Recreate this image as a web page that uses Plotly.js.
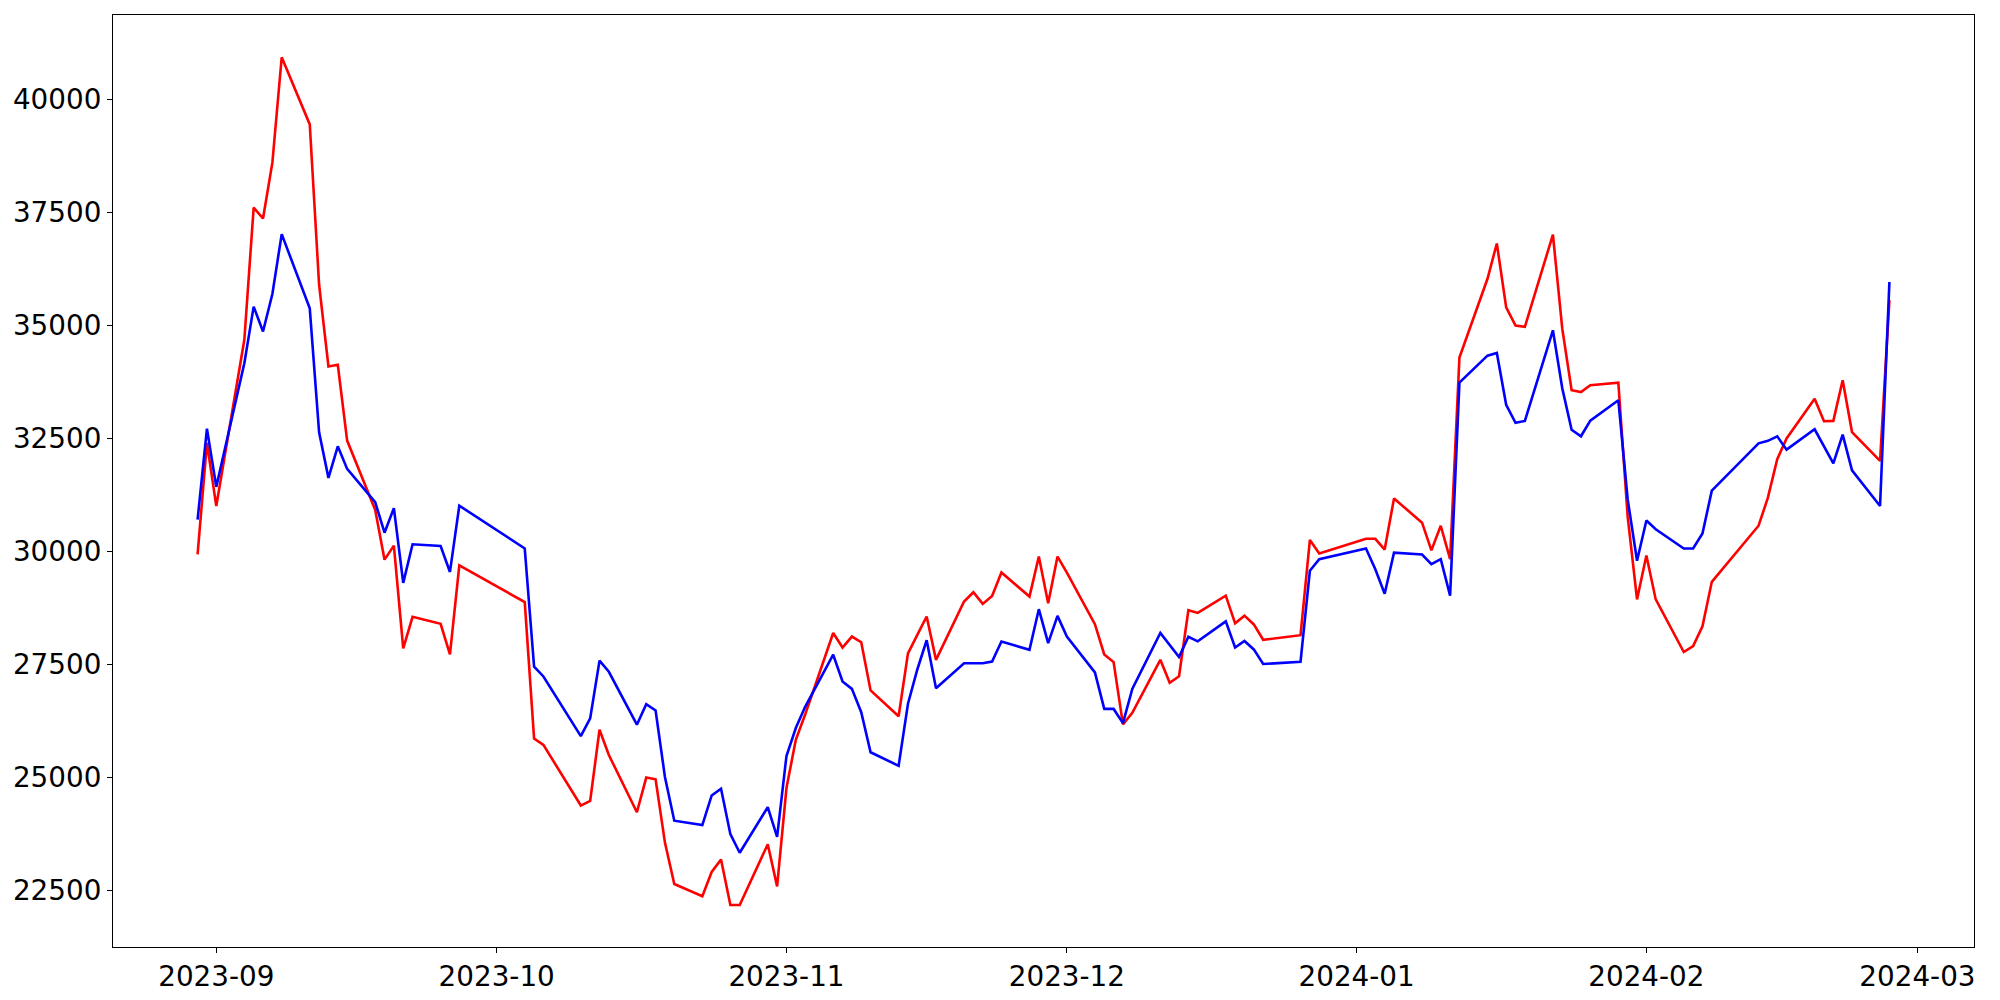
<!DOCTYPE html>
<html>
<head>
<meta charset="utf-8">
<script src="https://cdn.plot.ly/plotly-3.0.1.min.js"></script>
<style>html,body{margin:0;padding:0;background:#fff;}#chart{width:2000px;height:1000px;}</style>
</head>
<body>
<div id="chart"></div>
<script>
const dates = [
 "2023-08-30","2023-08-31","2023-09-01","2023-09-04","2023-09-05","2023-09-06","2023-09-07","2023-09-08",
 "2023-09-11","2023-09-12","2023-09-13","2023-09-14","2023-09-15","2023-09-18","2023-09-19","2023-09-20",
 "2023-09-21","2023-09-22","2023-09-25","2023-09-26","2023-09-27","2023-10-04","2023-10-05","2023-10-06",
 "2023-10-10","2023-10-11","2023-10-12","2023-10-13","2023-10-16","2023-10-17","2023-10-18","2023-10-19",
 "2023-10-20","2023-10-23","2023-10-24","2023-10-25","2023-10-26","2023-10-27","2023-10-30","2023-10-31",
 "2023-11-01","2023-11-02","2023-11-03","2023-11-06","2023-11-07","2023-11-08","2023-11-09","2023-11-10",
 "2023-11-13","2023-11-14","2023-11-15","2023-11-16","2023-11-17","2023-11-20","2023-11-21","2023-11-22",
 "2023-11-23","2023-11-24","2023-11-27","2023-11-28","2023-11-29","2023-11-30","2023-12-01","2023-12-04",
 "2023-12-05","2023-12-06","2023-12-07","2023-12-08","2023-12-11","2023-12-12","2023-12-13","2023-12-14",
 "2023-12-15","2023-12-18","2023-12-19","2023-12-20","2023-12-21","2023-12-22","2023-12-26","2023-12-27",
 "2023-12-28","2024-01-02","2024-01-03","2024-01-04","2024-01-05","2024-01-08","2024-01-09","2024-01-10",
 "2024-01-11","2024-01-12","2024-01-15","2024-01-16","2024-01-17","2024-01-18","2024-01-19","2024-01-22",
 "2024-01-23","2024-01-24","2024-01-25","2024-01-26","2024-01-29","2024-01-30","2024-01-31","2024-02-01",
 "2024-02-02","2024-02-05","2024-02-06","2024-02-07","2024-02-08","2024-02-13","2024-02-14","2024-02-15",
 "2024-02-16","2024-02-19","2024-02-20","2024-02-21","2024-02-22","2024-02-23","2024-02-26","2024-02-27"
];

const redValues = [
 29930, 32400, 31000, 34680, 37608, 37365, 38602, 40935,
 39448, 35900, 34090, 34127, 32449, 30916, 29814, 30124,
 27849, 28548, 28393, 27717, 29689, 28874, 25854, 25714,
 24371, 24472, 26048, 25490, 24222, 24990, 24953, 23551,
 22634, 22365, 22902, 23178, 22170, 22170, 23514, 22582,
 24759, 25826, 26385, 28190, 27869, 28112, 27987, 26920,
 26348, 27740, 28149, 28555, 27596, 28887, 29093, 28835,
 29012, 29529, 28997, 29882, 28850, 29882, 29529, 28385,
 27717, 27547, 26169, 26424, 27598, 27088, 27232, 28694,
 28635, 29017, 28405, 28575, 28380, 28040, 28142, 30250,
 29952, 30276, 30276, 30037, 31168, 30633, 30020, 30565,
 29825, 34288, 36031, 36813, 35397, 34994, 34968, 37008,
 34926, 33565, 33523, 33676, 33732, 30759, 28934, 29905,
 28934, 27770, 27902, 28337, 29323, 30565, 31186, 32040,
 32498, 33375, 32878, 32886, 33786, 32637, 32001, 35556
];

const blueValues = [
 30700, 32714, 31425, 34163, 35415, 34863, 35694, 37019,
 35378, 32633, 31624, 32323, 31823, 31087, 30411, 30955,
 29301, 30155, 30116, 29542, 31009, 30062, 27446, 27228,
 25908, 26300, 27578, 27332, 26161, 26616, 26474, 25005,
 24036, 23939, 24595, 24744, 23737, 23327, 24334, 23678,
 25468, 26087, 26557, 27710, 27116, 26954, 26437, 25550,
 25251, 26624, 27383, 28030, 26969, 27522, 27522, 27522,
 27559, 28001, 27817, 28717, 27965, 28570, 28112, 27317,
 26510, 26510, 26195, 26952, 28193, 27912, 27657, 28108,
 28006, 28448, 27870, 28014, 27827, 27504, 27555, 29570,
 29825, 30063, 29600, 29060, 29970, 29927, 29715, 29825,
 29017, 33735, 34330, 34390, 33242, 32843, 32885, 34890,
 33608, 32690, 32545, 32890, 33344, 31147, 29789, 30682,
 30487, 30060, 30060, 30394, 31341, 32389, 32443, 32544,
 32249, 32700, 32312, 31947, 32583, 31791, 31000, 35960
];

const xTickStart = "2023-09-01";
const xRange = ["2023-08-20 22:48", "2024-03-07 01:12"];
const yRange = [21240, 41870];

const font = {family: "DejaVu Sans, sans-serif", size: 27.8, color: "#000"};

const traces = [
  {x: dates, y: redValues, type: "scatter", mode: "lines", line: {color: "#ff0000", width: 2.6}, name: "red", hoverinfo: "x+y"},
  {x: dates, y: blueValues, type: "scatter", mode: "lines", line: {color: "#0000ff", width: 2.6}, name: "blue", hoverinfo: "x+y"}
];

const axisCommon = {
  showgrid: false, zeroline: false, showline: true, linecolor: "#000", linewidth: 1.1,
  mirror: true, ticks: "outside", ticklen: 5, tickwidth: 1.1, tickcolor: "#000", tickfont: font
};

const layout = {
  width: 2000, height: 1000,
  margin: {l: 113, r: 26, t: 15, b: 53, pad: 0},
  paper_bgcolor: "#fff", plot_bgcolor: "#fff",
  showlegend: false,
  font: font,
  xaxis: Object.assign({}, axisCommon, {
    type: "date", range: xRange, tick0: xTickStart, dtick: "M1", tickformat: "%Y-%m"
  }),
  yaxis: Object.assign({}, axisCommon, {
    range: yRange, tick0: 0, dtick: 2500, tickformat: "d"
  })
};

Plotly.newPlot("chart", traces, layout, {staticPlot: true, displayModeBar: false});
</script>
</body>
</html>
